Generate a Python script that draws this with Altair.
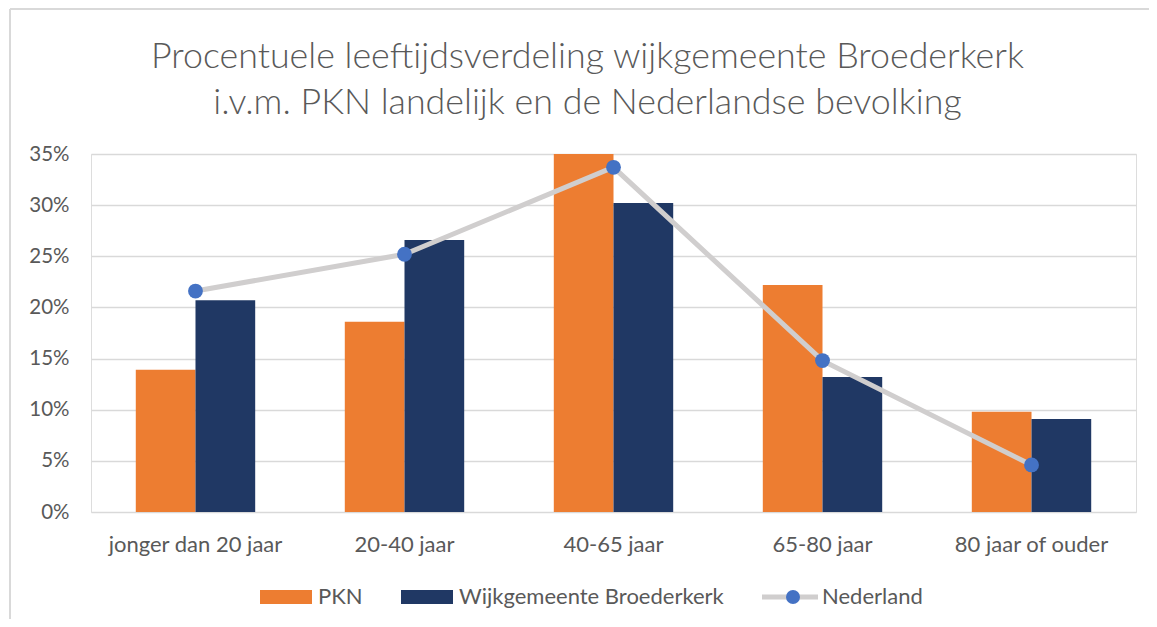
import altair as alt
import pandas as pd

categories = ["jonger dan 20 jaar", "20-40 jaar", "40-65 jaar", "65-80 jaar", "80 jaar of ouder"]
pkn = [0.139, 0.186, 0.355, 0.222, 0.098]
wijk = [0.207, 0.266, 0.302, 0.132, 0.091]
nederland = [0.216, 0.252, 0.337, 0.148, 0.046]
bar_series = ["PKN", "Wijkgemeente Broederkerk"]
line_series = ["Nederland"]
point_series = ["Nederland (punt)"]
y_ticks = [0, 0.05, 0.10, 0.15, 0.20, 0.25, 0.30, 0.35]

FONT = "Lato"
TXT = "#595959"

bars_df = pd.DataFrame(
    [{"cat": c, "series": "PKN", "value": v} for c, v in zip(categories, pkn)]
    + [{"cat": c, "series": "Wijkgemeente Broederkerk", "value": v} for c, v in zip(categories, wijk)]
)
nl_df = pd.DataFrame({"cat": categories, "lserie": line_series[0], "pserie": point_series[0],
                      "value": nederland})

W, H = 1045, 358

xscale = alt.Scale(domain=categories, paddingInner=0.4287, paddingOuter=0.2143)
yscale = alt.Scale(domain=[0, 0.35], nice=False)

x_enc = alt.X("cat:N", sort=categories, scale=xscale, title=None,
              axis=alt.Axis(labelAngle=0, labelFontSize=22, labelColor=TXT, labelFont=FONT,
                            labelPadding=22, ticks=False, domain=False, grid=False, labelLimit=400))
y_enc = alt.Y("value:Q", scale=yscale, title=None,
              axis=alt.Axis(values=y_ticks, format=".0%", labelFontSize=20.5, labelColor=TXT,
                            labelFont=FONT, labelPadding=22, ticks=False, domain=False,
                            grid=True, gridColor="#D9D9D9", gridWidth=1.5))

LEG_FS = 22

bars = alt.Chart(bars_df).mark_bar(clip=True).encode(
    x=x_enc,
    xOffset=alt.XOffset("series:N", sort=bar_series, scale=alt.Scale(domain=bar_series, paddingInner=0, paddingOuter=0)),
    y=y_enc,
    color=alt.Color("series:N", sort=bar_series,
                    scale=alt.Scale(domain=bar_series, range=["#ED7D31", "#203864"]),
                    legend=alt.Legend(title=None, orient="none", direction="horizontal",
                                      legendX=169, legendY=417, padding=0,
                                      symbolType="M-1,-0.27H1V0.27H-1Z", symbolSize=2704,
                                      symbolStrokeWidth=0, labelOffset=6, columnPadding=38,
                                      labelFontSize=LEG_FS, labelColor=TXT, labelFont=FONT,
                                      labelLimit=400)),
)

line = alt.Chart(nl_df).mark_line(strokeWidth=5).encode(
    x=alt.X("cat:N", sort=categories, scale=xscale),
    y=alt.Y("value:Q", scale=yscale),
    stroke=alt.Stroke("lserie:N", scale=alt.Scale(domain=line_series, range=["#D0CECE"]),
                      legend=alt.Legend(title=None, orient="none", legendX=668.5, legendY=412.5,
                                        padding=0, symbolType="stroke", symbolSize=3136,
                                        symbolStrokeWidth=5, labelOffset=1.5,
                                        labelFontSize=LEG_FS, labelColor=TXT, labelFont=FONT,
                                        labelLimit=400)),
)

points = alt.Chart(nl_df).mark_point(filled=True, size=220, opacity=1, color="#4472C4").encode(
    x=alt.X("cat:N", sort=categories, scale=xscale),
    y=alt.Y("value:Q", scale=yscale),
    shape=alt.Shape("pserie:N", scale=alt.Scale(domain=point_series, range=["circle"]),
                    legend=alt.Legend(title=None, orient="none", legendX=691, legendY=432,
                                      padding=0, symbolSize=196, symbolFillColor="#4472C4",
                                      symbolStrokeWidth=0, symbolOpacity=1, labelOffset=0,
                                      labelExpr="''", labelFontSize=LEG_FS)),
)

border_data = alt.Data(values=[{}])
border_top = alt.Chart(border_data).mark_rule(color="#D9D9D9", strokeWidth=2).encode(
    x=alt.value(-81), x2=alt.value(1070), y=alt.value(-145))
border_left = alt.Chart(border_data).mark_rule(color="#D9D9D9", strokeWidth=2).encode(
    x=alt.value(-81), y=alt.value(-145), y2=alt.value(470))

chart = alt.layer(border_top, border_left, bars, line, points).properties(
    width=W, height=H,
    autosize=alt.AutoSizeParams(type="none"),
    padding={"left": 83, "top": 146, "right": 13, "bottom": 107},
    title=alt.TitleParams(
        text=["Procentuele leeftijdsverdeling wijkgemeente Broederkerk",
              "i.v.m. PKN landelijk en de Nederlandse bevolking"],
        anchor="middle", frame="group", dx=-26, offset=-114,
        fontSize=35.8, font=FONT, fontWeight=300, color=TXT, lineHeight=46,
    ),
).configure_view(stroke=None).configure(background="white")

chart.save("out.html", embed_options={"renderer": "svg", "actions": False})
